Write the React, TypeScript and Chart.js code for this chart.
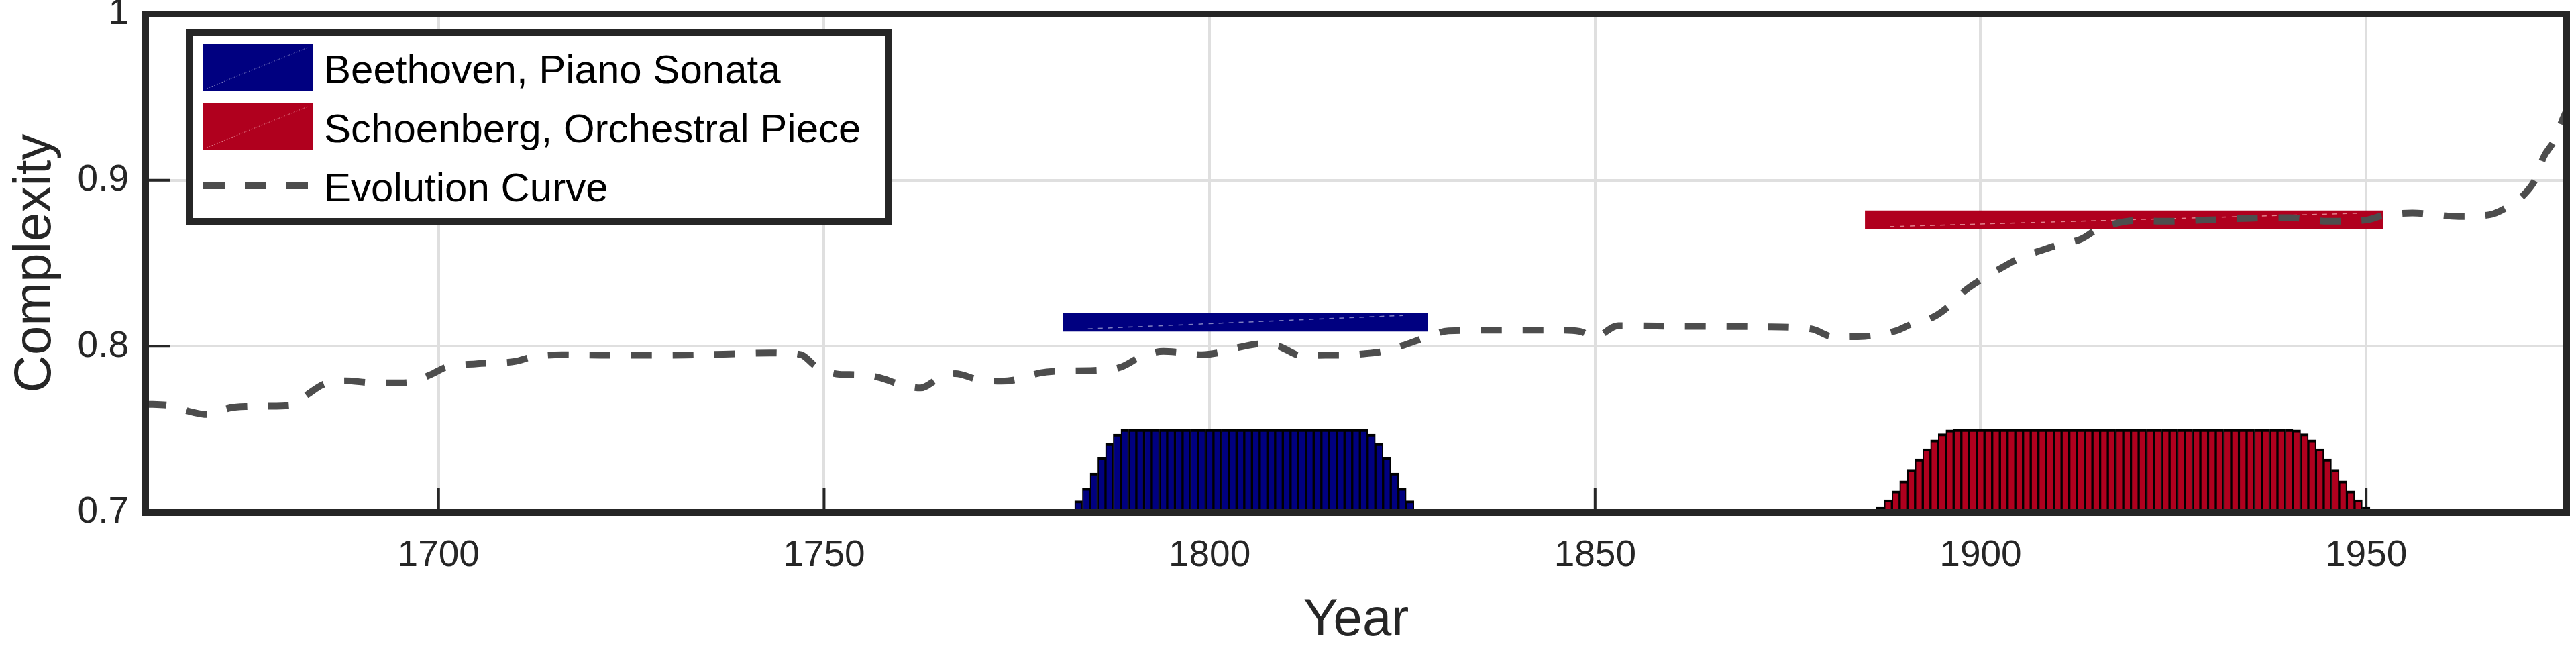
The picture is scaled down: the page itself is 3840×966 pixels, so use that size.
import React, { useEffect, useRef } from 'react';
import { Chart, registerables } from 'chart.js';

Chart.register(...registerables);

// ---------- data ----------
const xRange = [1662, 1976];
const yRange = [0.7, 1.0];
const xTicks = [1700, 1750, 1800, 1850, 1900, 1950];
const xTickLabels = ['1700', '1750', '1800', '1850', '1900', '1950'];
const yTicks = [0.7, 0.8, 0.9, 1.0];
const yTickLabels = ['0.7', '0.8', '0.9', '1'];

const legendLabels = ['Beethoven, Piano Sonata', 'Schoenberg, Orchestral Piece', 'Evolution Curve'];
const xTitle = 'Year';
const yTitle = 'Complexity';

const beethovenYears = [
  1781, 1782, 1783, 1784, 1785, 1786, 1787, 1788, 1789, 1790, 1791, 1792, 1793, 1794, 1795, 1796,
  1797, 1798, 1799, 1800, 1801, 1802, 1803, 1804, 1805, 1806, 1807, 1808, 1809, 1810, 1811, 1812,
  1813, 1814, 1815, 1816, 1817, 1818, 1819, 1820, 1821, 1822, 1823, 1824, 1825, 1826, 1827, 1828,
];
const beethovenHeights = [
  0.7004, 0.7015, 0.707, 0.7146, 0.7238, 0.7332, 0.7416, 0.7472,
  0.75, 0.75, 0.75, 0.75, 0.75, 0.75, 0.75, 0.75, 0.75, 0.75, 0.75, 0.75, 0.75, 0.75, 0.75, 0.75,
  0.75, 0.75, 0.75, 0.75, 0.75, 0.75, 0.75, 0.75, 0.75, 0.75, 0.75, 0.75, 0.75, 0.75, 0.75, 0.75,
  0.7472, 0.7416, 0.7332, 0.7238, 0.7146, 0.707, 0.7015, 0.7004,
];

const schoenbergYears = [
  1885, 1886, 1887, 1888, 1889, 1890, 1891, 1892, 1893, 1894, 1895, 1896, 1897, 1898, 1899, 1900,
  1901, 1902, 1903, 1904, 1905, 1906, 1907, 1908, 1909, 1910, 1911, 1912, 1913, 1914, 1915, 1916,
  1917, 1918, 1919, 1920, 1921, 1922, 1923, 1924, 1925, 1926, 1927, 1928, 1929, 1930, 1931, 1932,
  1933, 1934, 1935, 1936, 1937, 1938, 1939, 1940, 1941, 1942, 1943, 1944, 1945, 1946, 1947, 1948,
  1949, 1950, 1951, 1952,
];
const schoenbergHeights = [
  0.7004, 0.7005, 0.7032, 0.7076, 0.713, 0.719, 0.726, 0.7323, 0.7383, 0.7437, 0.7474, 0.7497,
  0.75, 0.75, 0.75, 0.75, 0.75, 0.75, 0.75, 0.75, 0.75, 0.75, 0.75, 0.75, 0.75, 0.75, 0.75, 0.75,
  0.75, 0.75, 0.75, 0.75, 0.75, 0.75, 0.75, 0.75, 0.75, 0.75, 0.75, 0.75, 0.75, 0.75, 0.75, 0.75,
  0.75, 0.75, 0.75, 0.75, 0.75, 0.75, 0.75, 0.75, 0.75, 0.75, 0.75, 0.75,
  0.7497, 0.7474, 0.7437, 0.7383, 0.7323, 0.726, 0.719, 0.713, 0.7076, 0.7032, 0.7005, 0.7004,
];

const beethovenSpan = [1781, 1828.3];
const beethovenLevel = 0.8146;
const schoenbergSpan = [1885, 1952.2];
const schoenbergLevel = 0.8761;

const curveYears = [
  1662, 1665, 1668, 1670, 1673, 1675, 1678, 1681, 1683, 1685, 1688, 1691, 1694, 1696, 1699, 1701,
  1705, 1710, 1712, 1716, 1721, 1727, 1732, 1737, 1743, 1745, 1747, 1749, 1752, 1754, 1757, 1760,
  1762.5, 1765, 1767, 1770, 1773, 1775, 1778, 1781, 1785, 1788.5, 1791, 1794, 1796, 1799, 1801,
  1804, 1807, 1809, 1812, 1815, 1817, 1820, 1822.5, 1825, 1828, 1831, 1838, 1845, 1848, 1850,
  1853, 1858, 1865, 1872, 1878, 1881, 1885, 1889, 1891, 1894, 1896, 1898, 1900, 1903, 1905, 1908,
  1910, 1913, 1915, 1918, 1920, 1924, 1929, 1935, 1940, 1945, 1950, 1952, 1956, 1962, 1966, 1968,
  1970.5, 1972, 1973, 1974.5, 1975.5, 1976,
];
const curveValues = [
  0.7652, 0.7645, 0.7605, 0.759, 0.763, 0.7638, 0.764, 0.7645, 0.771, 0.777, 0.7792, 0.7782, 0.778, 0.7782, 0.783, 0.7875,
  0.7895, 0.791, 0.7935, 0.795, 0.7947, 0.7947, 0.7948, 0.7953, 0.796, 0.7958, 0.795, 0.7878, 0.7832, 0.783, 0.7814, 0.7769,
  0.775, 0.781, 0.7836, 0.78, 0.779, 0.78, 0.784, 0.7852, 0.7855, 0.7875, 0.7935, 0.797, 0.7964, 0.795, 0.796,
  0.7996, 0.8016, 0.8, 0.7943, 0.7947, 0.7947, 0.7955, 0.797, 0.8004, 0.8053, 0.8093, 0.8097, 0.8097, 0.809, 0.8057,
  0.8125, 0.8122, 0.812, 0.8118, 0.8105, 0.8057, 0.806, 0.8093, 0.8134, 0.818, 0.8247, 0.8336, 0.84, 0.848, 0.853, 0.858,
  0.861, 0.8645, 0.87, 0.8745, 0.8757, 0.8753, 0.876, 0.8771, 0.8775, 0.8753, 0.876, 0.8785, 0.8803, 0.8782, 0.8792, 0.883,
  0.8915, 0.901, 0.9138, 0.9247, 0.9368, 0.942,
];

// ---------- styles ----------
const FONT = '"Liberation Sans", Arial, Helvetica, sans-serif';
const BLUE = '#000080';
const RED = '#B0001E';
const CURVE = '#4d4d4d';
const FRAME = '#262626';
const GRID = '#dfdfdf';

const tickMarksPlugin = {
  id: 'tickMarks',
  beforeDatasetsDraw(chart: any) {
    const { ctx, chartArea: a, scales } = chart;
    ctx.save();
    ctx.strokeStyle = FRAME;
    ctx.lineWidth = 4;
    ctx.beginPath();
    for (const v of xTicks) {
      const px = scales.x.getPixelForValue(v);
      ctx.moveTo(px, a.bottom);
      ctx.lineTo(px, a.bottom - 37);
    }
    for (const v of yTicks) {
      if (v <= yRange[0] || v >= yRange[1]) continue;
      const py = scales.y.getPixelForValue(v);
      ctx.moveTo(a.left, py);
      ctx.lineTo(a.left + 37, py);
    }
    ctx.stroke();
    ctx.restore();
  },
};

// faint diagonal seams inside the span bars (patch rendering artefact in the original),
// drawn right after each span dataset so the curve stays on top
const seamPlugin = {
  id: 'spanSeams',
  afterDatasetDraw(chart: any, args: any) {
    const spans: Record<number, { span: number[]; level: number; color: string }> = {
      1: { span: beethovenSpan, level: beethovenLevel, color: 'rgba(150,150,205,0.85)' },
      2: { span: schoenbergSpan, level: schoenbergLevel, color: 'rgba(235,150,160,0.85)' },
    };
    const s = spans[args.index];
    if (!s) return;
    const { ctx, scales } = chart;
    ctx.save();
    ctx.lineWidth = 1.5;
    ctx.setLineDash([7, 8]);
    const x0 = scales.x.getPixelForValue(s.span[0]);
    const x1 = scales.x.getPixelForValue(s.span[1]);
    const yc = scales.y.getPixelForValue(s.level);
    ctx.strokeStyle = s.color;
    ctx.beginPath();
    ctx.moveTo(x0 + 37, yc + 10);
    ctx.lineTo(x1 - 37, yc - 10);
    ctx.stroke();
    ctx.restore();
  },
};

const framePlugin = {
  id: 'frameBox',
  afterDatasetsDraw(chart: any) {
    const { ctx, chartArea: a } = chart;
    ctx.save();
    ctx.strokeStyle = FRAME;
    ctx.lineWidth = 10;
    ctx.strokeRect(a.left, a.top, a.right - a.left, a.bottom - a.top);
    ctx.restore();
  },
};

const legendPlugin = {
  id: 'boxLegend',
  afterDatasetsDraw(chart: any) {
    const { ctx, chartArea: a } = chart;
    const left = a.left + 65;
    const top = a.top + 27;
    const width = 1043;
    const height = 282;
    ctx.save();
    ctx.fillStyle = '#ffffff';
    ctx.fillRect(left, top, width, height);
    ctx.strokeStyle = FRAME;
    ctx.lineWidth = 10;
    ctx.strokeRect(left, top, width, height);

    const patchX = left + 20;
    const patchW = 165;
    const patchH = 70;
    const rows = [top + 53, top + 141, top + 229];
    const patchColors = [BLUE, RED];
    const seamColors = ['rgba(150,150,205,0.8)', 'rgba(235,150,160,0.8)'];
    patchColors.forEach((c, i) => {
      ctx.fillStyle = c;
      ctx.fillRect(patchX, rows[i] - patchH / 2, patchW, patchH);
      ctx.strokeStyle = seamColors[i];
      ctx.lineWidth = 1;
      ctx.setLineDash([2, 2]);
      ctx.beginPath();
      ctx.moveTo(patchX + 6, rows[i] + patchH / 2 - 4);
      ctx.lineTo(patchX + patchW - 6, rows[i] - patchH / 2 + 4);
      ctx.stroke();
    });
    ctx.strokeStyle = CURVE;
    ctx.lineWidth = 10;
    ctx.setLineDash([32, 30]);
    ctx.beginPath();
    ctx.moveTo(patchX + 1, rows[2]);
    ctx.lineTo(patchX + 157, rows[2]);
    ctx.stroke();
    ctx.setLineDash([]);

    ctx.fillStyle = '#000000';
    ctx.font = '60px ' + FONT;
    ctx.textAlign = 'left';
    ctx.textBaseline = 'alphabetic';
    legendLabels.forEach((t, i) => {
      ctx.fillText(t, left + 201, rows[i] + 23);
    });
    ctx.restore();
  },
};

export default function App() {
  const ref = useRef<HTMLCanvasElement | null>(null);

  useEffect(() => {
    if (!ref.current) return;
    Chart.defaults.font.family = FONT;
    const chart = new Chart(ref.current, {
      type: 'bar',
      data: {
        datasets: [
          {
            type: 'line',
            label: legendLabels[2],
            data: curveYears.map((x, i) => ({ x, y: curveValues[i] })),
            borderColor: CURVE,
            borderWidth: 10,
            borderDash: [31, 31],
            borderCapStyle: 'butt',
            cubicInterpolationMode: 'monotone',
            pointRadius: 0,
            fill: false,
            order: 0,
          } as any,
          {
            type: 'line',
            label: legendLabels[0] + ' span',
            data: [
              { x: beethovenSpan[0], y: beethovenLevel },
              { x: beethovenSpan[1], y: beethovenLevel },
            ],
            borderColor: BLUE,
            borderWidth: 28,
            borderCapStyle: 'butt',
            pointRadius: 0,
            fill: false,
            order: 1,
          } as any,
          {
            type: 'line',
            label: legendLabels[1] + ' span',
            data: [
              { x: schoenbergSpan[0], y: schoenbergLevel },
              { x: schoenbergSpan[1], y: schoenbergLevel },
            ],
            borderColor: RED,
            borderWidth: 28,
            borderCapStyle: 'butt',
            pointRadius: 0,
            fill: false,
            order: 1,
          } as any,
          {
            type: 'bar',
            label: legendLabels[0],
            data: beethovenYears.map((x, i) => ({ x, y: beethovenHeights[i] })),
            backgroundColor: BLUE,
            borderColor: '#000000',
            borderWidth: { top: 4, left: 2, right: 2, bottom: 2 },
            borderSkipped: false,
            barPercentage: 1,
            categoryPercentage: 1,
            grouped: false,
            order: 2,
          } as any,
          {
            type: 'bar',
            label: legendLabels[1],
            data: schoenbergYears.map((x, i) => ({ x, y: schoenbergHeights[i] })),
            backgroundColor: RED,
            borderColor: '#000000',
            borderWidth: { top: 4, left: 2, right: 2, bottom: 2 },
            borderSkipped: false,
            barPercentage: 1,
            categoryPercentage: 1,
            grouped: false,
            order: 2,
          } as any,
        ],
      },
      options: {
        animation: false,
        responsive: false,
        maintainAspectRatio: false,
        layout: { padding: { left: 0, right: 14, top: 21, bottom: 0 } },
        plugins: {
          legend: { display: false },
          tooltip: { enabled: false },
        },
        scales: {
          x: {
            type: 'linear',
            min: xRange[0],
            max: xRange[1],
            offset: false,
            grid: { color: GRID, lineWidth: 4, drawTicks: false, offset: false },
            border: { display: false },
            ticks: {
              autoSkip: false,
              maxRotation: 0,
              padding: 32,
              color: FRAME,
              font: { size: 55 },
              callback: (_v: any, i: number) => xTickLabels[i],
            },
            afterBuildTicks: (s: any) => {
              s.ticks = xTicks.map((v) => ({ value: v }));
            },
            afterFit: (s: any) => {
              s.height = 202;
              s.paddingLeft = 0;
              s.paddingRight = 0;
              s.paddingTop = 0;
              s.paddingBottom = 0;
            },
            title: {
              display: true,
              text: xTitle,
              color: FRAME,
              font: { size: 78, lineHeight: 1 },
              padding: { top: 2, bottom: 2 },
            },
          },
          y: {
            type: 'linear',
            min: yRange[0],
            max: yRange[1],
            grid: { color: GRID, lineWidth: 4, drawTicks: false },
            border: { display: false },
            ticks: {
              autoSkip: false,
              padding: 25,
              color: FRAME,
              font: { size: 55 },
              callback: (_v: any, i: number) => yTickLabels[i],
            },
            afterBuildTicks: (s: any) => {
              s.ticks = yTicks.map((v) => ({ value: v }));
            },
            afterFit: (s: any) => {
              s.width = 217;
              s.paddingLeft = 0;
              s.paddingRight = 0;
              s.paddingTop = 0;
              s.paddingBottom = 0;
            },
            title: {
              display: true,
              text: yTitle,
              color: FRAME,
              font: { size: 78, lineHeight: 1 },
              padding: { top: 14, bottom: 14 },
            },
          },
        },
      } as any,
      plugins: [tickMarksPlugin, seamPlugin, framePlugin, legendPlugin],
    });
    return () => chart.destroy();
  }, []);

  return (
    <div style={{ position: 'fixed', left: 0, top: 0, width: 3840, height: 966, background: '#ffffff' }}>
      <canvas ref={ref} width={3840} height={966} style={{ display: 'block', width: 3840, height: 966 }} />
    </div>
  );
}
